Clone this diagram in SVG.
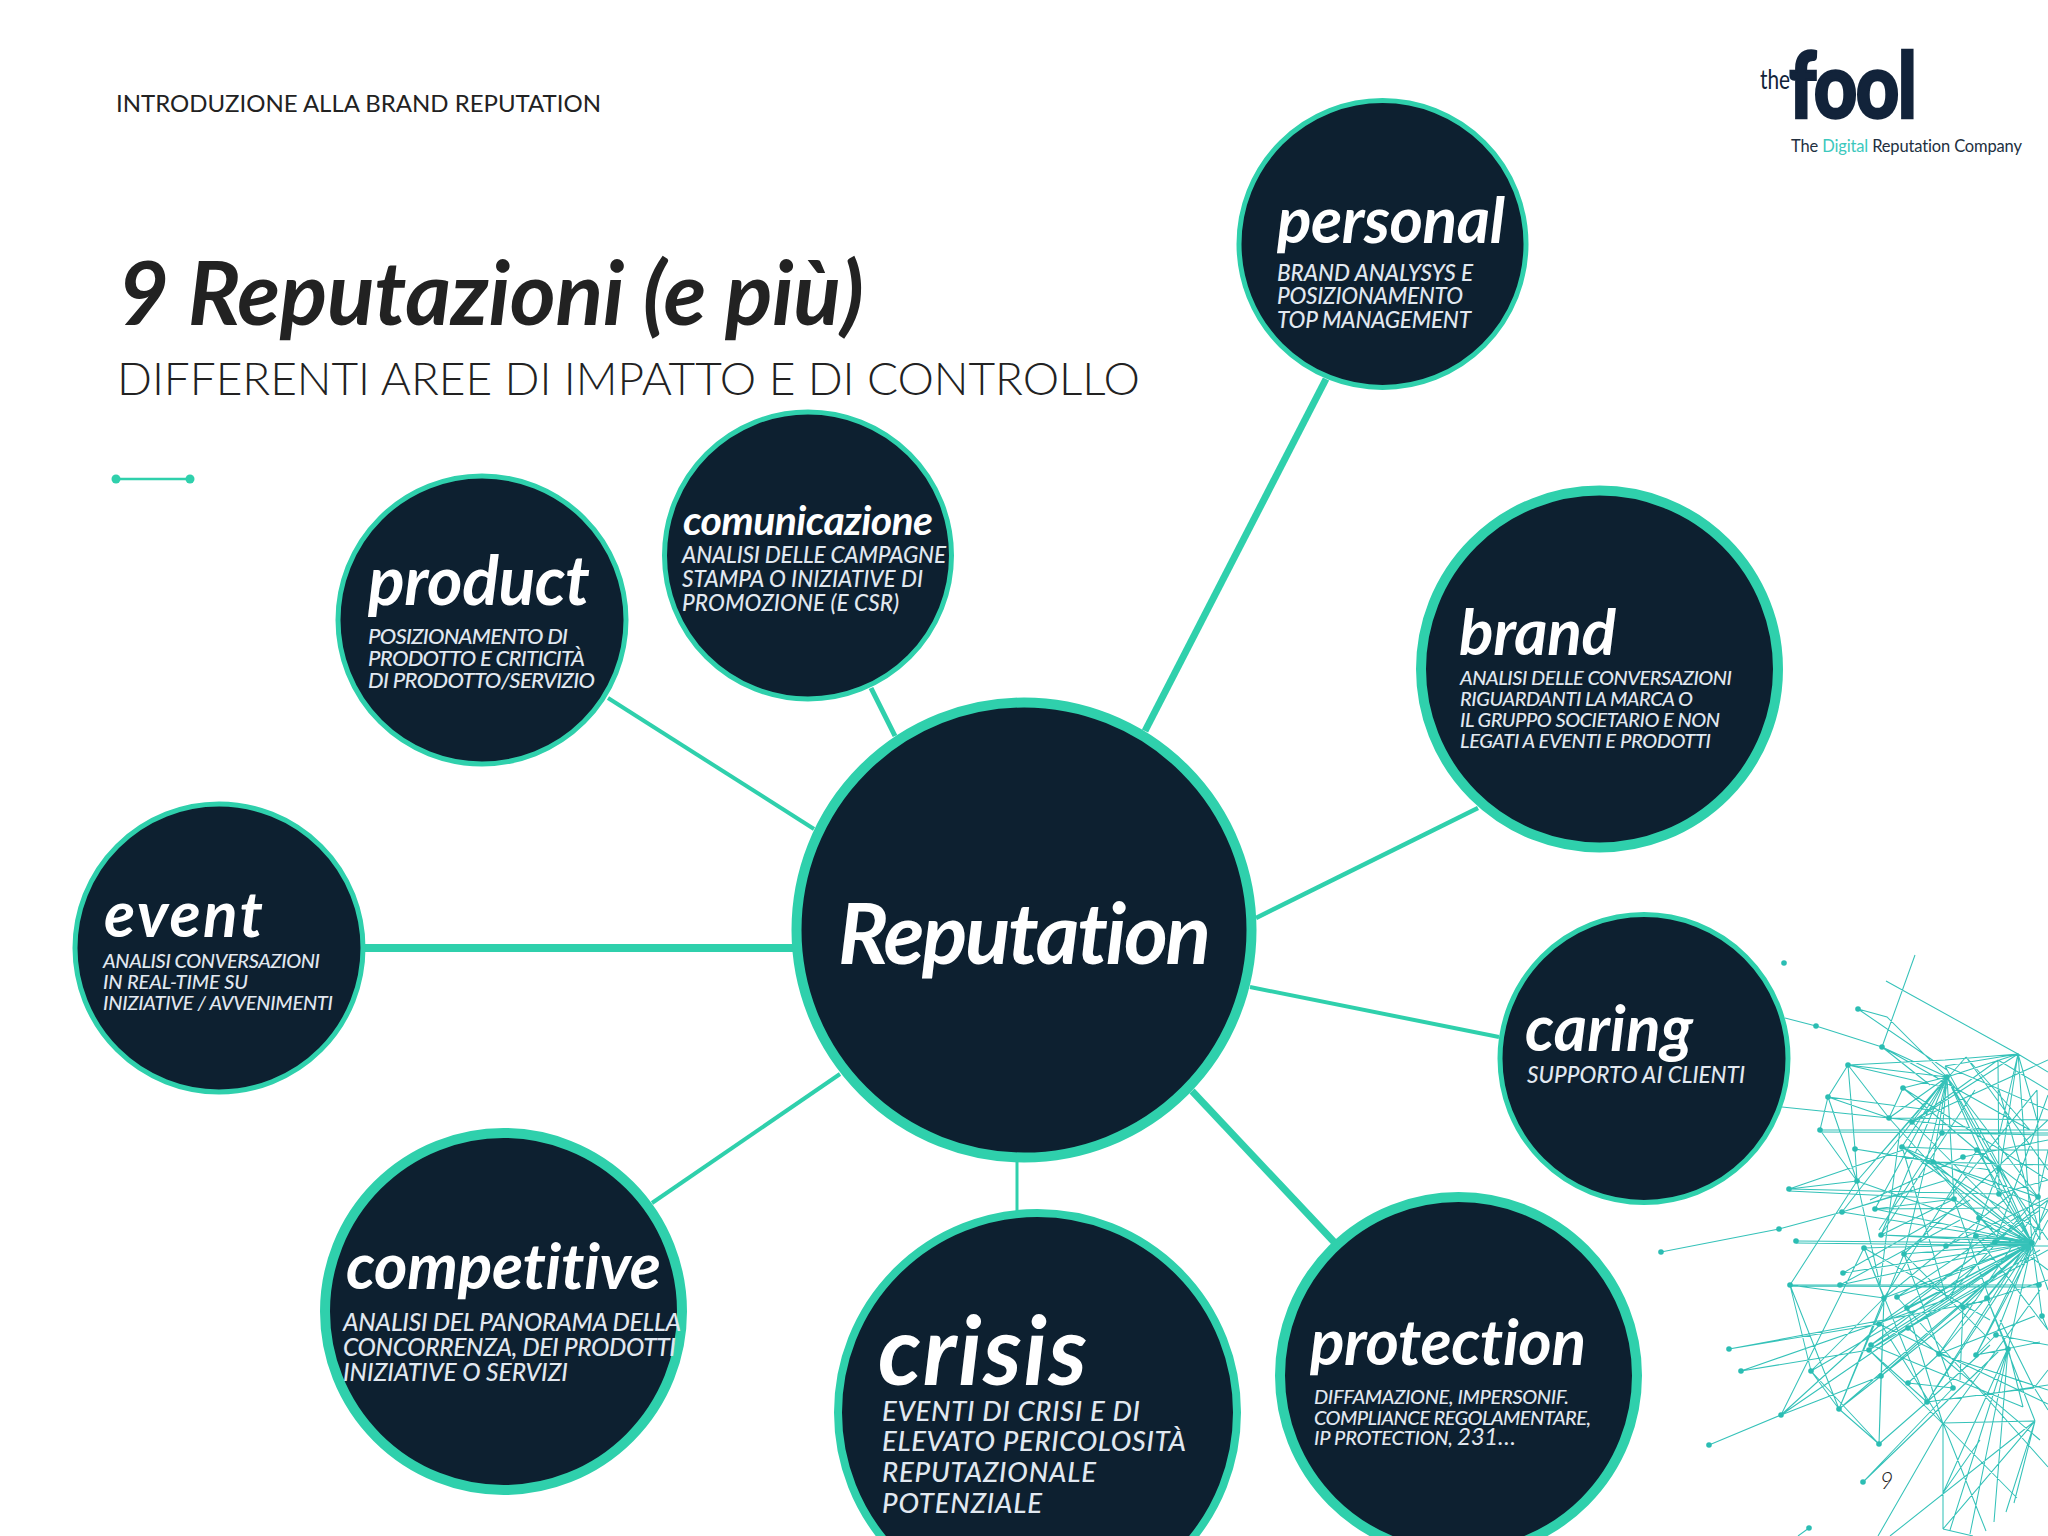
<svg xmlns="http://www.w3.org/2000/svg" width="2048" height="1536" viewBox="0 0 2048 1536">
<style>
text{font-family:Lato,"Noto Sans",sans-serif;font-variant-ligatures:none}
.n{fill:#0d2030;stroke:#2fd0ac}
.n5{stroke-width:5}.n10{stroke-width:10}
.c{stroke:#2fd0ac;fill:none}
.h{fill:#fff;font-weight:700;font-style:italic}
.s{fill:#e1e8f0;font-weight:500;font-style:italic}
.w{fill:#2bbdb3}
.net{fill:none;stroke:#35c2b9;stroke-width:1.05}
</style>
<rect width="2048" height="1536" fill="#fff"/>
<g id="header">
<text x="116" y="112" font-size="24" fill="#222" textLength="485" lengthAdjust="spacing">INTRODUZIONE ALLA BRAND REPUTATION</text>
<text x="118" y="325" font-size="88" font-weight="700" font-style="italic" fill="#222" textLength="746" lengthAdjust="spacing">9 Reputazioni (e più)</text>
<text x="117" y="395" font-size="46" font-weight="300" fill="#222" textLength="1023" lengthAdjust="spacing">DIFFERENTI AREE DI IMPATTO E DI CONTROLLO</text>
<path d="M116 479H190" stroke="#2fd0ac" stroke-width="2.5"/>
<circle cx="116" cy="479" r="4.5" fill="#2fd0ac"/><circle cx="190" cy="479" r="4.5" fill="#2fd0ac"/>
</g>
<g id="logo">
<text x="1760" y="89" font-size="26" fill="#12233a" textLength="30" lengthAdjust="spacingAndGlyphs">the</text>
<text transform="translate(1789 118) scale(.82 1)" x="0" y="0" font-size="92" font-weight="900" fill="#12233a" stroke="#12233a" stroke-width="2.5" textLength="156" lengthAdjust="spacing">fool</text>
<text x="1791" y="152" font-size="16.5" fill="#22303f" textLength="231" lengthAdjust="spacing">The <tspan fill="#3cc8bd">Digital</tspan> Reputation Company</text>
</g>
<g id="network">
<path class="net" d="M1785 1018L1816 1026L1882 1047M1915 955L1882 1047M1886 981L2018 1054L2048 1072M1858 1009L1887 1017L1947 1077M1858 1009L1947 1070M1882 1047L1947 1077M1882 1047L2030 1130M1882 1047L1930 1085M1782 1107L1889 1118L1990 1130
M1848 1065L1828 1097L1820 1130L1857 1181M1848 1065L1855 1149L1857 1181M1828 1097L1889 1118M1828 1097L1930 1110M1828 1097L1857 1181M1820 1130L2048 1130M1820 1132L2048 1133M1848 1065L1945 1060L2018 1054M1848 1065L1947 1088M1848 1065L1889 1118M1855 1149L1933 1162M1789 1189L1857 1181M1789 1189L1999 1194M1789 1189L1903 1150M1789 1191L1954 1199M1779 1229L1842 1212L1947 1180M1842 1212L1912 1190M1661 1252L1779 1229M1875 1209L2000 1208M1881 1235L2032 1240
M1790 1285L1857 1181M1790 1285L2039 1285M1790 1286L2039 1287M1790 1285L1884 1298M1790 1285L1811 1371M1790 1285L1839 1409M1811 1371L1879 1444M1811 1371L1839 1409M1839 1409L1879 1444M1879 1444L1881 1376M1879 1444L1927 1402M1781 1415L1709 1445M1781 1415L1864 1248M1781 1415L1881 1324M1781 1415L1908 1328M1781 1415L1881 1376M1811 1371L1884 1298M1729 1349L1879 1324M1729 1349L1990 1300M1741 1371L1869 1350M1741 1371L1945 1300M1839 1409L1884 1298M1839 1409L1881 1376M1839 1409L1904 1254M1796 1241L2032 1243M1796 1243L2048 1246M1864 1248L1884 1298M1864 1248L1927 1402M1864 1248L1990 1320M1863 1482L1953 1388M1863 1482L2000 1350M1927 1402L2034 1388M1927 1402L1990 1345M1881 1376L1976 1300
M1869 1350L1943 1424M1871 1345L2023 1407M1869 1350L1927 1402M1908 1383L1953 1388M1908 1383L1939 1354M1881 1324L1943 1424M1879 1324L2048 1404M1908 1328L2040 1440M1884 1298L1879 1444M1884 1298L1881 1376M1897 1297L2048 1467M1907 1308L1943 1424M1939 1354L2048 1390M1976 1355L2040 1342M1976 1355L2008 1349M1976 1355L1996 1335M1939 1354L2035 1316
M1943 1423L2035 1421M1943 1423L1943 1529M1943 1423L1986 1531M1943 1423L1878 1536M1943 1423L2017 1498M2035 1421L1890 1536M2035 1421L1943 1529M2035 1421L2006 1512M2035 1421L2014 1503M2008 1348L1970 1534M2008 1348L1950 1530M2008 1348L1994 1522M2008 1348L2023 1407M2008 1348L1943 1493M1943 1529L1973 1536M1943 1493L1980 1440M1809 1528L1798 1536M2002 1392L2048 1385M2002 1392L1927 1402M1996 1335L2048 1345M1987 1298L2008 1349M1987 1298L2035 1421M2042 1316L2048 1330M2034 1388L2048 1370M2034 1388L2000 1320M2035 1389L2048 1410M1963 1307L2048 1280M1963 1307L1960 1380
M2032 1243L1904 1254M2032 1243L1884 1298M2032 1243L1897 1297M2032 1243L1907 1308M2032 1243L1879 1324M2032 1243L1871 1345M2032 1243L1869 1350M2032 1243L1908 1328M2032 1243L1843 1273M2032 1243L1840 1285M2032 1243L1864 1248M2032 1243L1939 1354M2032 1243L1976 1355M2032 1243L1963 1307M2032 1243L1987 1298M2032 1243L1933 1162M2032 1243L1902 1147M2032 1243L1857 1181M2032 1243L1881 1235M2032 1243L1875 1209M2032 1243L1953 1199M2032 1243L1999 1194M2032 1243L1999 1169M2032 1243L1977 1150M2032 1243L2018 1053M2032 1243L1947 1077M2032 1243L1912 1122M2032 1243L1811 1371M2032 1243L1781 1415M2032 1243L1839 1409M2032 1243L2042 1316M2032 1243L2048 1200M2032 1243L2048 1290M2032 1243L1842 1212M2032 1243L1946 1246M2032 1243L1995 1242M2032 1243L1976 1236M2032 1243L1979 1218M2032 1243L1927 1402M2032 1243L1881 1376M2032 1243L2008 1349M2032 1243L1996 1335
M1947 1077L1903 1088M1947 1077L1889 1118M1947 1077L1857 1181M1947 1077L1842 1212M1947 1077L1881 1235M1947 1077L1912 1122M1947 1077L1942 1133M1947 1077L1933 1162M1947 1077L1954 1199M1947 1077L1999 1169M1947 1077L2038 1197M1947 1077L1999 1194M1947 1077L1902 1147M1947 1077L1875 1209M1947 1077L1904 1254M1947 1077L1848 1065
M2018 1054L1998 1140M2018 1054L2037 1120M2018 1054L1947 1077M2018 1054L1912 1122M2018 1054L2000 1170M2018 1054L1945 1066M1945 1066L2040 1240M1945 1066L2048 1110M1966 1057L1857 1181M1966 1057L2030 1130M1966 1057L2048 1170M1998 1060L1999 1194M1998 1060L1912 1122M1998 1060L2048 1090M2037 1090L2040 1240M2037 1090L1947 1200M1903 1088L1889 1118M1903 1088L1999 1169M1903 1088L2048 1180M1889 1118L2048 1120M1889 1118L2000 1240M1912 1122L2048 1060M1942 1133L2048 1135M1942 1133L1879 1230M1902 1147L2048 1210M1902 1147L2039 1230M1902 1147L1977 1150M1933 1162L2038 1197M1933 1162L2048 1165M1933 1162L2000 1240M1963 1157L1870 1200M1963 1157L2048 1140M1977 1150L2048 1150M1977 1150L2038 1197M1977 1150L1884 1298M1999 1169L2048 1240M1999 1169L1950 1300M1999 1194L2048 1180M1954 1199L1990 1300M1954 1199L1881 1235M1875 1209L1954 1199M1903 1150L1947 1300M1855 1149L1990 1170M1857 1181L1880 1285L1900 1130M1881 1235L1975 1090M2038 1197L1945 1300M2038 1197L2048 1150M2039 1230L1999 1090M1995 1242L2048 1095M1976 1236L2048 1330M1979 1218L2048 1270M1946 1246L2048 1198M1904 1254L2048 1120M1904 1254L1990 1340M1904 1254L1953 1388M1843 1273L1970 1200M1840 1285L1960 1220M1884 1298L2010 1195M1897 1297L2020 1215M1907 1308L2048 1200M1879 1324L2040 1210M1908 1328L2048 1250M1869 1350L2040 1250M1871 1345L1990 1255M1939 1354L2030 1220M1976 1355L2048 1220M1927 1402L2048 1210M1943 1424L2040 1290"/>
<g class="w">
<circle cx="1784" cy="963" r="2.8"/><circle cx="1858" cy="1009" r="2.8"/><circle cx="1816" cy="1026" r="2.8"/><circle cx="1882" cy="1047" r="2.8"/><circle cx="1848" cy="1065" r="2.8"/><circle cx="1828" cy="1097" r="2.8"/><circle cx="1820" cy="1130" r="2.8"/><circle cx="1855" cy="1149" r="2.8"/><circle cx="1857" cy="1181" r="2.8"/><circle cx="1789" cy="1189" r="2.8"/><circle cx="1842" cy="1212" r="2.8"/><circle cx="1779" cy="1229" r="2.8"/><circle cx="1875" cy="1209" r="2.8"/><circle cx="1881" cy="1235" r="2.8"/><circle cx="1903" cy="1088" r="2.8"/><circle cx="1889" cy="1118" r="2.8"/><circle cx="1902" cy="1147" r="2.8"/><circle cx="1947" cy="1077" r="2.8"/><circle cx="1933" cy="1162" r="2.8"/><circle cx="1999" cy="1169" r="2.8"/><circle cx="1999" cy="1194" r="2.8"/><circle cx="1954" cy="1199" r="2.8"/><circle cx="2038" cy="1197" r="2.8"/><circle cx="1912" cy="1122" r="2.8"/><circle cx="1942" cy="1133" r="2.8"/><circle cx="1963" cy="1157" r="2.8"/><circle cx="1977" cy="1150" r="2.8"/><circle cx="1976" cy="1236" r="2.8"/><circle cx="1995" cy="1242" r="2.8"/><circle cx="1979" cy="1218" r="2.8"/><circle cx="1661" cy="1252" r="2.8"/><circle cx="1796" cy="1241" r="2.8"/><circle cx="1864" cy="1248" r="2.8"/><circle cx="1904" cy="1254" r="2.8"/><circle cx="1946" cy="1246" r="2.8"/><circle cx="2032" cy="1243" r="2.8"/><circle cx="1843" cy="1273" r="2.8"/><circle cx="1840" cy="1285" r="2.8"/><circle cx="1790" cy="1285" r="2.8"/><circle cx="2039" cy="1285" r="2.8"/><circle cx="1884" cy="1298" r="2.8"/><circle cx="1897" cy="1297" r="2.8"/><circle cx="1907" cy="1308" r="2.8"/><circle cx="1963" cy="1307" r="2.8"/><circle cx="1987" cy="1298" r="2.8"/><circle cx="1879" cy="1324" r="2.8"/><circle cx="1908" cy="1328" r="2.8"/><circle cx="1729" cy="1349" r="2.8"/><circle cx="1741" cy="1371" r="2.8"/><circle cx="1871" cy="1345" r="2.8"/><circle cx="1869" cy="1350" r="2.8"/><circle cx="1939" cy="1354" r="2.8"/><circle cx="1976" cy="1355" r="2.8"/><circle cx="2008" cy="1349" r="2.8"/><circle cx="1996" cy="1335" r="2.8"/><circle cx="1811" cy="1371" r="2.8"/><circle cx="1881" cy="1376" r="2.8"/><circle cx="1908" cy="1383" r="2.8"/><circle cx="1953" cy="1388" r="2.8"/><circle cx="1781" cy="1415" r="2.8"/><circle cx="1839" cy="1409" r="2.8"/><circle cx="1927" cy="1402" r="2.8"/><circle cx="1709" cy="1445" r="2.8"/><circle cx="1879" cy="1444" r="2.8"/><circle cx="1863" cy="1482" r="2.8"/><circle cx="1809" cy="1528" r="2.8"/><circle cx="2042" cy="1316" r="2.8"/>
</g>
</g>
<text id="page" x="1880" y="1489" font-size="23" font-weight="300" font-style="italic" fill="#222">9</text>
<g id="connectors">
<path class="c" stroke-width="7" d="M1326 379L1145 731"/>
<path class="c" stroke-width="4.5" d="M1478 808L1256 918"/>
<path class="c" stroke-width="4" d="M1499 1037L1250 987"/>
<path class="c" stroke-width="7" d="M1335 1243L1192 1091"/>
<path class="c" stroke-width="3" d="M1017 1155V1215"/>
<path class="c" stroke-width="4" d="M652 1203L840 1074"/>
<path class="c" stroke-width="8" d="M363 948H794"/>
<path class="c" stroke-width="4" d="M608 698L814 829"/>
<path class="c" stroke-width="5" d="M871 688L895 736"/>
</g>
<g id="reputation"><circle class="n n10" cx="1024" cy="930" r="227.5"/>
<text class="h" x="838" y="964" font-size="84" textLength="373" lengthAdjust="spacing">Reputation</text></g>
<g id="personal"><circle class="n n5" cx="1382.5" cy="244" r="143.5"/>
<text class="h" x="1277" y="243" font-size="64" textLength="228" lengthAdjust="spacing">personal</text>
<text class="s" x="1277" y="281" font-size="22.5" textLength="196" lengthAdjust="spacing">BRAND ANALYSYS E</text>
<text class="s" x="1277" y="304" font-size="22.5" textLength="186" lengthAdjust="spacing">POSIZIONAMENTO</text>
<text class="s" x="1277" y="328" font-size="22.5" textLength="194" lengthAdjust="spacing">TOP MANAGEMENT</text></g>
<g id="brand"><circle class="n n10" cx="1599.5" cy="669" r="178.5"/>
<text class="h" x="1459" y="655" font-size="64" textLength="157" lengthAdjust="spacing">brand</text>
<text class="s" x="1460" y="685" font-size="20" textLength="272" lengthAdjust="spacing">ANALISI DELLE CONVERSAZIONI</text>
<text class="s" x="1460" y="706" font-size="20" textLength="233" lengthAdjust="spacing">RIGUARDANTI LA MARCA O</text>
<text class="s" x="1460" y="727" font-size="20" textLength="260" lengthAdjust="spacing">IL GRUPPO SOCIETARIO E NON</text>
<text class="s" x="1460" y="748" font-size="20" textLength="251" lengthAdjust="spacing">LEGATI A EVENTI E PRODOTTI</text></g>
<g id="caring"><circle class="n n5" cx="1644" cy="1058.5" r="144"/>
<text class="h" x="1525" y="1051" font-size="64" textLength="168" lengthAdjust="spacing">caring</text>
<text class="s" x="1527" y="1083" font-size="22.5" textLength="218" lengthAdjust="spacing">SUPPORTO AI CLIENTI</text></g>
<g id="protection"><circle class="n n10" cx="1458.5" cy="1375.5" r="178.5"/>
<text class="h" x="1310" y="1365" font-size="64" textLength="276" lengthAdjust="spacing">protection</text>
<text class="s" x="1314" y="1404" font-size="20" textLength="255" lengthAdjust="spacing">DIFFAMAZIONE, IMPERSONIF.</text>
<text class="s" x="1314" y="1425" font-size="20" textLength="277" lengthAdjust="spacing">COMPLIANCE REGOLAMENTARE,</text>
<text class="s" x="1314" y="1445" font-size="20" textLength="202" lengthAdjust="spacing">IP PROTECTION, <tspan font-size="24" font-weight="400">231…</tspan></text></g>
<g id="crisis"><circle class="n" stroke-width="8" cx="1037.5" cy="1412.5" r="199.5"/>
<text class="h" x="878" y="1385" font-size="95" textLength="209" lengthAdjust="spacing">crisis</text>
<text class="s" x="882" y="1421" font-size="27.5" textLength="258" lengthAdjust="spacing">EVENTI DI CRISI E DI</text>
<text class="s" x="882" y="1451" font-size="27.5" textLength="304" lengthAdjust="spacing">ELEVATO PERICOLOSITÀ</text>
<text class="s" x="882" y="1482" font-size="27.5" textLength="214" lengthAdjust="spacing">REPUTAZIONALE</text>
<text class="s" x="882" y="1513" font-size="27.5" textLength="160" lengthAdjust="spacing">POTENZIALE</text></g>
<g id="competitive"><circle class="n n10" cx="503.5" cy="1311.5" r="178.5"/>
<text class="h" x="346" y="1289" font-size="64" textLength="315" lengthAdjust="spacing">competitive</text>
<text class="s" x="343" y="1331" font-size="24.5" textLength="338" lengthAdjust="spacing">ANALISI DEL PANORAMA DELLA</text>
<text class="s" x="343" y="1356" font-size="24.5" textLength="333" lengthAdjust="spacing">CONCORRENZA, DEI PRODOTTI</text>
<text class="s" x="343" y="1381" font-size="24.5" textLength="225" lengthAdjust="spacing">INIZIATIVE O SERVIZI</text></g>
<g id="event"><circle class="n n5" cx="219" cy="948" r="144"/>
<text class="h" x="104" y="937" font-size="64" textLength="159" lengthAdjust="spacing">event</text>
<text class="s" x="103" y="968" font-size="20" textLength="217" lengthAdjust="spacing">ANALISI CONVERSAZIONI</text>
<text class="s" x="103" y="989" font-size="20" textLength="145" lengthAdjust="spacing">IN REAL-TIME SU</text>
<text class="s" x="103" y="1010" font-size="20" textLength="230" lengthAdjust="spacing">INIZIATIVE / AVVENIMENTI</text></g>
<g id="product"><circle class="n n5" cx="482" cy="620" r="144"/>
<text class="h" x="368" y="605" font-size="68" textLength="222" lengthAdjust="spacing">product</text>
<text class="s" x="368" y="644" font-size="22" textLength="200" lengthAdjust="spacing">POSIZIONAMENTO DI</text>
<text class="s" x="368" y="666" font-size="22" textLength="217" lengthAdjust="spacing">PRODOTTO E CRITICITÀ</text>
<text class="s" x="368" y="688" font-size="22" textLength="227" lengthAdjust="spacing">DI PRODOTTO/SERVIZIO</text></g>
<g id="comunicazione"><circle class="n n5" cx="808" cy="555.5" r="143.5"/>
<text class="h" x="683" y="535" font-size="41" textLength="250" lengthAdjust="spacing">comunicazione</text>
<text class="s" x="682" y="563" font-size="22.5" textLength="264" lengthAdjust="spacing">ANALISI DELLE CAMPAGNE</text>
<text class="s" x="682" y="587" font-size="22.5" textLength="241" lengthAdjust="spacing">STAMPA O INIZIATIVE DI</text>
<text class="s" x="682" y="611" font-size="22.5" textLength="217" lengthAdjust="spacing">PROMOZIONE (E CSR)</text></g>
</svg>
